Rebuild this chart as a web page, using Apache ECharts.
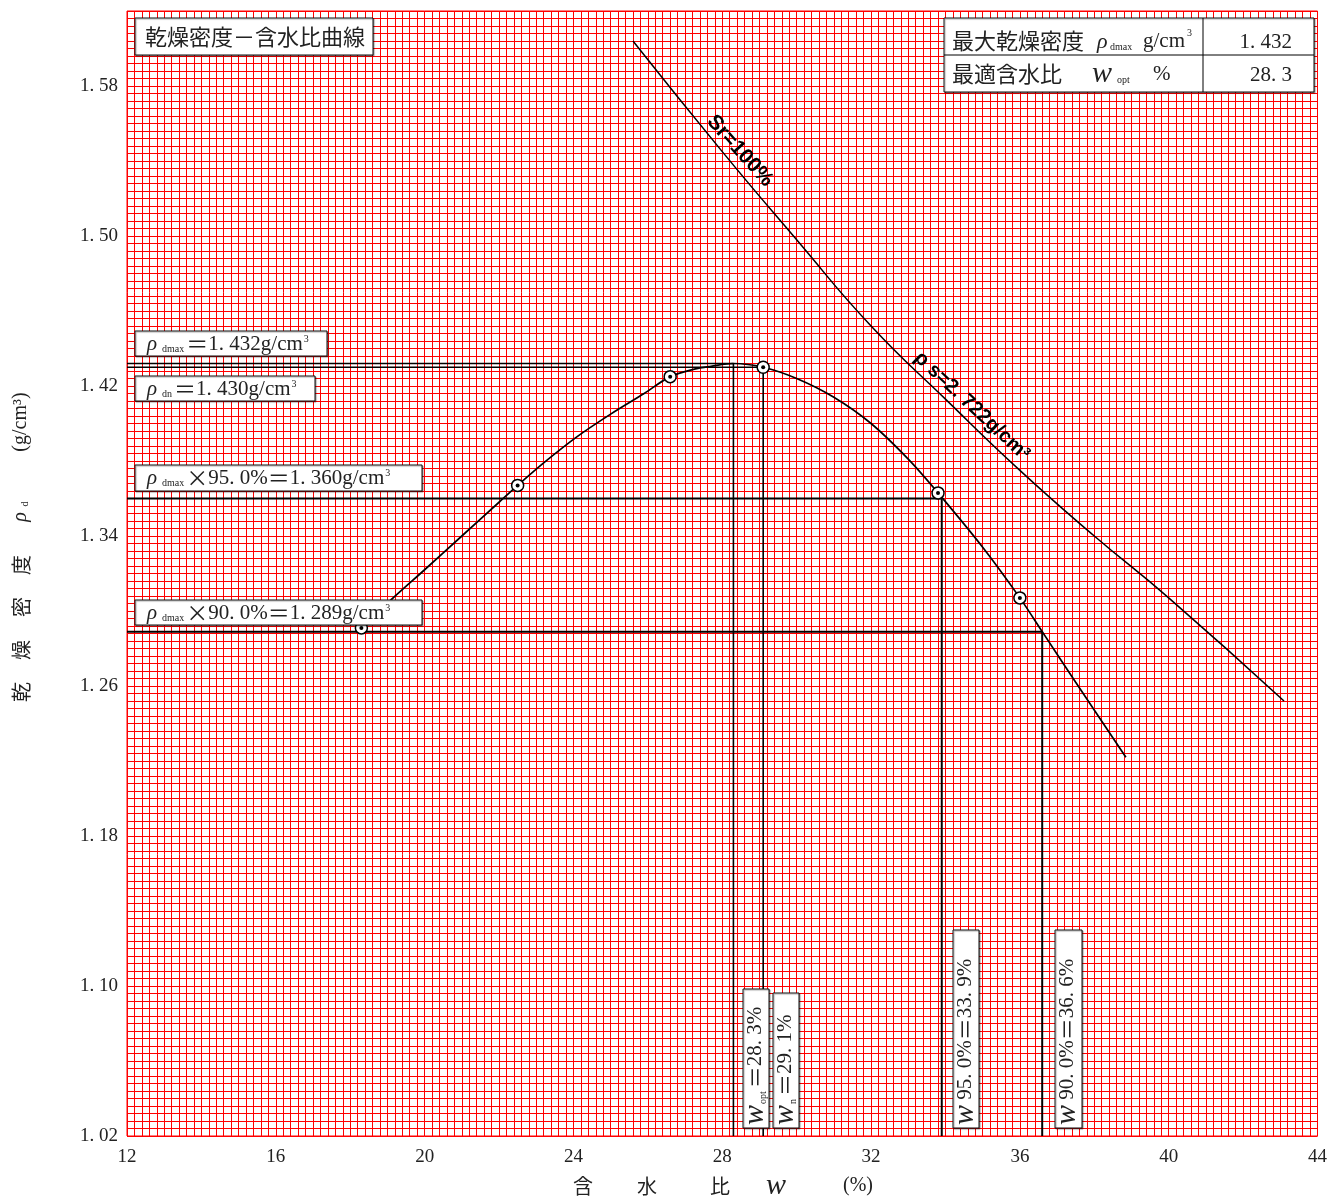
<!DOCTYPE html>
<html><head><meta charset="utf-8">
<script src="https://cdn.jsdelivr.net/npm/echarts@6/dist/echarts.min.js"></script>
<style>html,body{margin:0;padding:0;background:#fff}#c{width:1330px;height:1196px}</style>
</head><body><div id="c"></div>
<script>
// ---- data ----
const xTicks = [12, 16, 20, 24, 28, 32, 36, 40, 44];
const yTicks = [1.02, 1.10, 1.18, 1.26, 1.34, 1.42, 1.50, 1.58];
const yTickLabels = ['1. 02', '1. 10', '1. 18', '1. 26', '1. 34', '1. 42', '1. 50', '1. 58'];

const curveW   = [18.3, 19.1, 20.0, 21.0, 22.0, 22.5, 23.2, 24.1, 25.0, 25.9, 26.6, 27.25, 27.7, 28.3, 29.1, 30.0, 31.0, 32.0, 33.0, 33.8, 35.0, 36.0, 36.6, 37.5, 38.85];
const curveRho = [1.291, 1.306, 1.322, 1.340, 1.358, 1.367, 1.379, 1.393, 1.405, 1.416, 1.425, 1.429, 1.4305, 1.432, 1.430, 1.424, 1.414, 1.400, 1.381, 1.363, 1.334, 1.307, 1.289, 1.262, 1.222];

const testW   = [18.3, 22.5, 26.6, 29.1, 33.8, 36.0];
const testRho = [1.291, 1.367, 1.425, 1.430, 1.363, 1.307];

const srW   = [25.6, 28.0, 30.0, 32.0, 34.0, 36.0, 38.0, 40.0, 43.1];
const srRho = [1.604, 1.545, 1.498, 1.452, 1.413, 1.375, 1.340, 1.307, 1.252];

const rhoDmax = 1.432, wOpt = 28.3;
const rhoDn = 1.430, wN = 29.1;
const rho95 = 1.360, w95 = 33.9;
const rho90 = 1.289, w90 = 36.6;
const xMin = 12, xMax = 44, yMin = 1.02, yMax = 1.62;

// ---- chart ----
const SERIF = "'Liberation Serif', 'Noto Sans CJK JP', serif";
const CJK = "'Noto Sans CJK JP', sans-serif";
const TXT = '#222';

const zip = (a, b) => a.map((v, i) => [v, b[i]]);
const refLine = (w, rho) => [[xMin, rho], [w, rho], [w, yMin]];

const chart = echarts.init(document.getElementById('c'));

const lineSeries = (data, width, extra) => Object.assign({
  type: 'line', data, symbol: 'none', silent: true, z: 3,
  lineStyle: { color: '#000', width }
}, extra || {});

chart.setOption({
  animation: false,
  backgroundColor: '#fff',
  grid: { left: 127, top: 11, width: 1196, height: 1125, show: true, borderColor: '#ff0000', borderWidth: 1 },
  xAxis: {
    type: 'value', min: xMin, max: xMax, interval: 0.2,
    axisLine: { show: false }, axisTick: { show: false },
    splitLine: { show: true, lineStyle: { color: '#ff0000', width: 1 } },
    axisLabel: { customValues: xTicks, fontFamily: SERIF, fontSize: 19, color: TXT, margin: 12 }
  },
  yAxis: {
    type: 'value', min: yMin, max: yMax, interval: 0.004,
    axisLine: { show: false }, axisTick: { show: false },
    splitLine: { show: true, lineStyle: { color: '#ff0000', width: 1 } },
    axisLabel: {
      customValues: yTicks, fontFamily: SERIF, fontSize: 19, color: TXT, margin: 9,
      formatter: v => { const i = yTicks.findIndex(t => Math.abs(t - v) < 1e-6); return i >= 0 ? yTickLabels[i] : ''; }
    }
  },
  series: [
    lineSeries(refLine(wOpt, rhoDmax), 1.6),
    lineSeries(refLine(wN, rhoDn), 1.6),
    lineSeries(refLine(w95, rho95), 2),
    lineSeries(refLine(w90, rho90), 2),
    lineSeries(zip(srW, srRho), 1.5, { smooth: true }),
    lineSeries(zip(curveW, curveRho), 1.7, { smooth: 0.3, z: 4 }),
    { type: 'scatter', data: zip(testW, testRho), symbol: 'circle', symbolSize: 12, z: 5, silent: true,
      itemStyle: { color: '#fff', borderColor: '#000', borderWidth: 1.5, opacity: 1 } },
    { type: 'scatter', data: zip(testW, testRho), symbol: 'circle', symbolSize: 4, z: 6, silent: true,
      itemStyle: { color: '#000', opacity: 1 } }
  ]
});

// ---- annotations ----
function rect(x, y, w, h) {
  return { type: 'rect', z: 100, shape: { x, y, width: w, height: h },
    style: { fill: '#fff', stroke: '#111', lineWidth: 1, shadowColor: 'rgba(0,0,0,0.35)', shadowBlur: 1, shadowOffsetX: 1, shadowOffsetY: 1 } };
}
function seg(x1, y1, x2, y2) {
  return { type: 'line', z: 101, shape: { x1, y1, x2, y2 }, style: { stroke: '#000', lineWidth: 1 } };
}
function text(x, y, str, st, rot) {
  return { type: 'text', z: 102, x, y, rotation: rot || 0,
    style: Object.assign({ text: str, fill: TXT, fontFamily: SERIF, fontSize: 20,
      align: 'left', textAlign: 'left', verticalAlign: 'middle', textVerticalAlign: 'middle' }, st || {}) };
}
const richStyles = {
  r: { fontFamily: SERIF, fontSize: 21, fontStyle: 'italic', fill: TXT },
  w: { fontFamily: SERIF, fontSize: 30, fontStyle: 'italic', fill: TXT },
  s: { fontFamily: SERIF, fontSize: 10, fill: TXT, verticalAlign: 'bottom', padding: [0, 2, 1, 5] },
  t: { fontFamily: SERIF, fontSize: 10, fill: TXT, verticalAlign: 'bottom', padding: [0, 3, 2, 1] },
  p: { fontFamily: SERIF, fontSize: 10, fill: TXT, verticalAlign: 'top', padding: [1, 0, 0, 1] },
  n: { fontFamily: SERIF, fontSize: 21, fill: TXT },
  c: { fontFamily: CJK, fontSize: 22, fill: TXT }
};
const R = { rich: richStyles };

const rot90 = Math.PI / 2;
const g = [];

// title box
g.push(rect(135, 18, 238, 37));
g.push(text(145, 37, '乾燥密度－含水比曲線', { fontFamily: CJK, fontSize: 22 }));

// table top right
g.push(rect(944, 18, 370, 74));
g.push(seg(944, 55, 1314, 55));
g.push(seg(1203, 18, 1203, 92));
g.push(text(952, 41, '最大乾燥密度', { fontFamily: CJK, fontSize: 22 }));
g.push(text(1097, 42, 'ρ', { fontSize: 22, fontStyle: 'italic' }));
g.push(text(1110, 47, 'dmax', { fontSize: 10 }));
g.push(text(1143, 41, 'g/cm', { fontSize: 21 }));
g.push(text(1187, 33, '3', { fontSize: 10 }));
g.push(text(1292, 42, '1. 432', { fontSize: 21, align: 'right', textAlign: 'right' }));
g.push(text(952, 74, '最適含水比', { fontFamily: CJK, fontSize: 22 }));
g.push(text(1092, 74, 'w', { fontSize: 30, fontStyle: 'italic' }));
g.push(text(1117, 80, 'opt', { fontSize: 10 }));
g.push(text(1153, 74, '%', { fontSize: 21 }));
g.push(text(1292, 75, '28. 3', { fontSize: 21, align: 'right', textAlign: 'right' }));

// horizontal value labels
g.push(rect(135, 331, 192, 25));
g.push(text(147, 344, '{r|ρ}{s|dmax}{c|＝}{n|1. 432g/cm}{p|3}', R));
g.push(rect(135, 376, 180, 25));
g.push(text(147, 389, '{r|ρ}{s|dn}{c|＝}{n|1. 430g/cm}{p|3}', R));
g.push(rect(135, 465, 287, 26));
g.push(text(147, 478, '{r|ρ}{s|dmax}{c|×}{n|95. 0%}{c|＝}{n|1. 360g/cm}{p|3}', R));
g.push(rect(135, 600, 287, 25));
g.push(text(147, 613, '{r|ρ}{s|dmax}{c|×}{n|90. 0%}{c|＝}{n|1. 289g/cm}{p|3}', R));

// vertical value labels
g.push(rect(743, 989, 26, 139));
g.push(text(755, 1125, '{w|w}{t|opt}{c|＝}{n|28. 3%}', R, rot90));
g.push(rect(773, 993, 26, 135));
g.push(text(785, 1125, '{w|w}{t|n}{c|＝}{n|29. 1%}', R, rot90));
g.push(rect(953, 930, 26, 198));
g.push(text(965, 1125, '{w|w}{n| 95. 0%}{c|＝}{n|33. 9%}', R, rot90));
g.push(rect(1055, 930, 27, 198));
g.push(text(1067, 1125, '{w|w}{n| 90. 0%}{c|＝}{n|36. 6%}', R, rot90));

// saturation line labels
const BOLD = "'Liberation Sans', 'DejaVu Sans', sans-serif";
g.push(text(740, 151, 'Sr=100%', { fontFamily: BOLD, fontWeight: 'bold', fontSize: 21, fill: '#000', align: 'center', textAlign: 'center' }, -48 * Math.PI / 180));
g.push(text(972, 406, 'ρ s=2. 722g/cm³', { fontFamily: BOLD, fontWeight: 'bold', fontSize: 20, fill: '#000', align: 'center', textAlign: 'center' }, -43 * Math.PI / 180));

// axis names
const nm = { fontFamily: CJK, fontSize: 20, align: 'center', textAlign: 'center' };
g.push(text(583, 1186, '含', nm));
g.push(text(647, 1186, '水', nm));
g.push(text(720, 1186, '比', nm));
g.push(text(776, 1186, 'w', { fontSize: 30, fontStyle: 'italic', align: 'center', textAlign: 'center' }));
g.push(text(858, 1186, '(%)', { fontSize: 20, align: 'center', textAlign: 'center' }));

g.push(text(21, 692, '乾', nm, rot90));
g.push(text(21, 650, '燥', nm, rot90));
g.push(text(21, 607, '密', nm, rot90));
g.push(text(21, 565, '度', nm, rot90));
g.push(text(21, 517, 'ρ', { fontSize: 20, fontStyle: 'italic', align: 'center', textAlign: 'center' }, rot90));
g.push(text(25, 504, 'd', { fontSize: 10, align: 'center', textAlign: 'center' }, rot90));
g.push(text(21, 422, '(g/cm³)', { fontSize: 20, align: 'center', textAlign: 'center' }, rot90));

chart.setOption({ graphic: { elements: g } });
</script>
</body></html>
